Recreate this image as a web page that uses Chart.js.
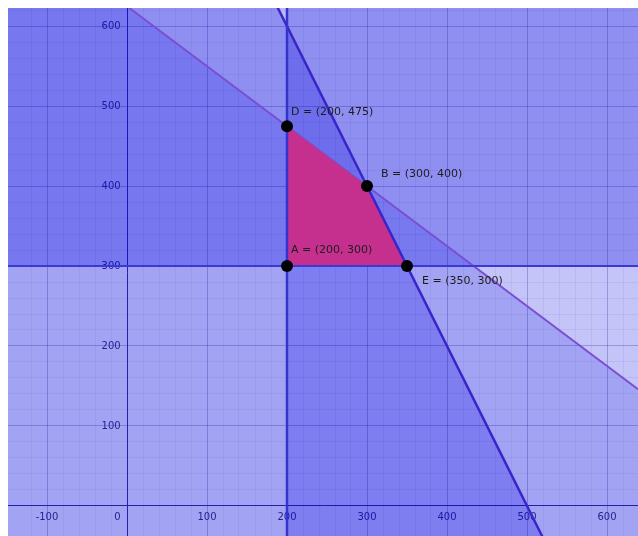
<!DOCTYPE html>
<html>
<head>
<meta charset="utf-8">
<script src="https://cdn.jsdelivr.net/npm/chart.js@4/dist/chart.umd.min.js"></script>
<style>
    body { margin: 0; background: #fff; }
    #wrap { width: 638px; height: 536px; overflow: hidden; }
</style>
</head>
<body>
<div id="wrap"><canvas id="lpChart" width="644" height="542"></canvas></div>
<script>
// view window
const X_MIN = -148.75, X_MAX = 638.75;
const Y_MIN = -37.7, Y_MAX = 622.8;

// constraints: coefX * x + coefY * y <= rhs
// x >= 200, y >= 300, 3x + 4y <= 2500, 2x + y <= 1000
const coefX = [-1, 0, 3, 2];
const coefY = [0, -1, 4, 1];
const rhs = [-200, -300, 2500, 1000];

// corner points of the feasible region
const pointNames = ['A', 'E', 'B', 'D'];
const pointX = [200, 350, 300, 200];
const pointY = [300, 300, 400, 475];

const shadeAlpha = [0.23, 0.27, 0.17, 0.23];
const lineColors = ['#3434cc', '#3a3ad0', '#7b4fd2', '#3a26c8'];
const lineWidths = [2.5, 2, 2, 2.5];

// clip the view rectangle to one half plane
function halfPlane(a, b, c) {
    var rect = [[X_MIN, Y_MIN], [X_MAX, Y_MIN], [X_MAX, Y_MAX], [X_MIN, Y_MAX]];
    var out = [];
    for (let i = 0; i < 4; i++) {
        var p = rect[i], q = rect[(i + 1) % 4];
        var fp = a * p[0] + b * p[1] - c;
        var fq = a * q[0] + b * q[1] - c;
        if (fp <= 0) out.push({x: p[0], y: p[1]});
        if ((fp < 0 && fq > 0) || (fp > 0 && fq < 0)) {
            var t = fp / (fp - fq);
            out.push({x: p[0] + t * (q[0] - p[0]), y: p[1] + t * (q[1] - p[1])});
        }
    }
    out.push(out[0]);
    return out;
}

// boundary line a*x + b*y = c across the view
function boundary(a, b, c) {
    if (b === 0) {
        return [{x: c / a, y: Y_MIN}, {x: c / a, y: Y_MAX}];
    }
    return [{x: X_MIN, y: (c - a * X_MIN) / b}, {x: X_MAX, y: (c - a * X_MAX) / b}];
}

var datasets = [];
for (let i = 0; i < coefX.length; i++) {
    datasets.push({
        data: halfPlane(coefX[i], coefY[i], rhs[i]),
        backgroundColor: 'rgba(0,0,225,' + shadeAlpha[i] + ')',
        borderWidth: 0,
        pointRadius: 0,
        fill: 'shape',
        order: 5
    });
}

var corners = [];
for (let i = 0; i < pointX.length; i++) corners.push({x: pointX[i], y: pointY[i]});

// feasible region
datasets.push({
    data: corners.concat([corners[0]]),
    backgroundColor: '#c5308f',
    borderWidth: 0,
    pointRadius: 0,
    fill: 'shape',
    order: 3
});

for (let i = 0; i < coefX.length; i++) {
    datasets.push({
        data: boundary(coefX[i], coefY[i], rhs[i]),
        borderColor: lineColors[i],
        borderWidth: lineWidths[i],
        pointRadius: 0,
        fill: false,
        order: i === 2 ? 4 : 2
    });
}

datasets.push({
    data: corners,
    showLine: false,
    pointRadius: 6,
    pointBackgroundColor: '#000',
    pointBorderWidth: 0,
    order: 0
});

var labelOffsets = {A: [4, -16], E: [15, 15], B: [14, -12], D: [4, -14]};

const pointLabels = {
    id: 'pointLabels',
    afterDatasetsDraw(chart) {
        var ctx = chart.ctx;
        var xs = chart.scales.x, ys = chart.scales.y;
        ctx.save();
        ctx.font = '11px "DejaVu Sans"';
        ctx.fillStyle = '#1c1c1c';
        ctx.textAlign = 'left';
        ctx.textBaseline = 'middle';
        for (let i = 0; i < pointNames.length; i++) {
            var off = labelOffsets[pointNames[i]];
            var txt = pointNames[i] + ' = (' + pointX[i] + ', ' + pointY[i] + ')';
            ctx.fillText(txt, xs.getPixelForValue(pointX[i]) + off[0], ys.getPixelForValue(pointY[i]) + off[1]);
        }
        ctx.restore();
    }
};

function gridColor(c) {
    if (!c.tick) return 'rgba(0,0,0,0)';
    var v = Math.round(c.tick.value);
    if (v % 100 === 0) return 'rgba(40,40,120,0.28)';
    if (v % 20 === 0) return 'rgba(40,40,120,0.07)';
    return 'rgba(0,0,0,0)';
}

function axisOpts(min, max, crossAt, isX) {
    return {
        type: 'linear',
        min: min,
        max: max,
        position: crossAt,
        z: 1,
        border: { display: true, color: '#34348f', width: 1 },
        grid: { color: gridColor, drawTicks: true, tickLength: 6, tickColor: 'rgba(0,0,0,0)', lineWidth: 1 },
        ticks: {
            stepSize: 20,
            maxTicksLimit: 100,
            autoSkip: false,
            includeBounds: false,
            maxRotation: 0,
            padding: 0,
            color: '#38385e',
            font: { family: 'DejaVu Sans', size: 10 },
            callback: function (value, index) {
                var v = Math.round(value);
                if (index === 0) return null;
                if (v % 100 !== 0) return '';
                if (v === 0) return isX ? '0      ' : '';
                return isX ? String(v) : v + '  ';
            }
        }
    };
}

var ctx = document.getElementById('lpChart').getContext('2d');
let lpChart = new Chart(ctx, {
    type: 'line',
    data: { datasets: datasets },
    options: {
        responsive: false,
        animation: false,
        layout: { padding: { left: 8, top: 8, right: 0, bottom: 0 } },
        plugins: {
            legend: { display: false },
            tooltip: { enabled: false }
        },
        scales: {
            x: axisOpts(X_MIN, X_MAX, { y: 0 }, true),
            y: axisOpts(Y_MIN, Y_MAX, { x: 0 }, false)
        }
    },
    plugins: [pointLabels]
});
</script>
</body>
</html>
